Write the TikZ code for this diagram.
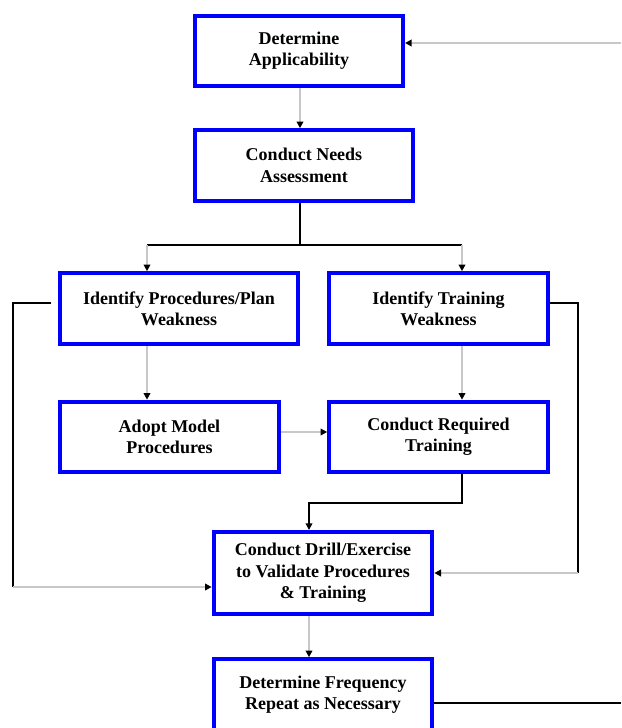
\documentclass[tikz,border=0pt]{standalone}
\usepackage{fontspec}
\setmainfont{Liberation Serif}
\usepackage{tikz}
\usetikzlibrary{calc,arrows.meta}

\definecolor{boxBlue}{RGB}{0,0,255}
\definecolor{lineGray}{RGB}{200,200,200}

\begin{document}
\begin{tikzpicture}[x=0.75pt,y=-0.75pt,
    stepbox/.style={draw=boxBlue, line width=3pt, fill=white, align=center,
      minimum height=53pt, inner sep=2pt,
      font=\bfseries\fontsize{13.5}{16}\selectfont},
    grayarrow/.style={draw=lineGray, line width=2.2pt,
      -{Triangle[black,length=5pt,width=5pt]}},
    blackline/.style={draw=black, line width=1.1pt},
    blackarrow/.style={blackline, -{Triangle[black,length=5pt,width=5pt]}}]
  \useasboundingbox (0,0) rectangle (621,728);

  %% The steps of the process
  \node[stepbox, minimum width=156pt]   (apply)    at (299,51)    {Determine\\Applicability};
  \node[stepbox, minimum width=163.5pt] (needs)    at (304,165.5) {Conduct Needs\\Assessment};
  \node[stepbox, minimum width=178.5pt] (procWeak) at (179,308.5) {Identify Procedures/Plan\\Weakness};
  \node[stepbox, minimum width=164pt]   (trainWeak) at (438.5,308.5) {Identify Training\\Weakness};
  \node[stepbox, minimum width=164pt]   (adopt)    at (169.5,437) {Adopt Model\\Procedures};
  \node[stepbox, minimum width=164pt]   (reqTrain) at (438.5,437) {Conduct Required\\Training};
  \node[stepbox, minimum width=164pt, minimum height=61.5pt]
                                        (drill)    at (323,573)   {Conduct Drill/Exercise\\to Validate Procedures\\\& Training};
  \node[stepbox, minimum width=164pt]   (freq)     at (323,694.5) {Determine Frequency\\Repeat as Necessary};

  %% Columns, rows and loose ends of the connectors
  \coordinate (colA) at (147,0);
  \coordinate (colB) at (300,0);
  \coordinate (colC) at (462,0);
  \coordinate (colD) at (309,0);
  \coordinate (split) at (300,245);
  \coordinate (rowE) at (0,432);
  \coordinate (turn) at (0,503);
  \coordinate (leftCorner) at (13,587);
  \coordinate (rightCorner) at (578,573);
  \coordinate (entryRight) at (621,43);
  \coordinate (exitRight) at (621,703);

  %% Straight down the middle
  \draw[grayarrow] (apply.south -| colB) -- (needs.north -| colB);
  \draw[blackline] (needs.south -| colB) -- (split);
  \draw[blackline] (split -| colA) -- (split -| colC);
  \draw[grayarrow] (split -| colA) -- (procWeak.north -| colA);
  \draw[grayarrow] (split -| colC) -- (trainWeak.north -| colC);
  \draw[grayarrow] (procWeak.south -| colA) -- (adopt.north -| colA);
  \draw[grayarrow] (trainWeak.south -| colC) -- (reqTrain.north -| colC);
  \draw[grayarrow] (adopt.east |- rowE) -- (reqTrain.west |- rowE);
  \draw[blackarrow] (reqTrain.south -| colC) |- (turn -| colD) -- (drill.north -| colD);
  \draw[grayarrow] (drill.south -| colD) -- (freq.north -| colD);

  %% The loops round the sides
  \draw[blackline, shorten <=5pt] (procWeak.west |- 0,303) -| (leftCorner);
  \draw[grayarrow] (leftCorner) -- (leftCorner -| drill.west);
  \draw[blackline] (trainWeak.east |- 0,303) -| (rightCorner);
  \draw[grayarrow] (rightCorner) -- (drill.east);

  %% In and out at the right edge
  \draw[grayarrow] (entryRight) -- (apply.east |- entryRight);
  \draw[blackline] (freq.east |- exitRight) -- (exitRight);
\end{tikzpicture}
\end{document}
